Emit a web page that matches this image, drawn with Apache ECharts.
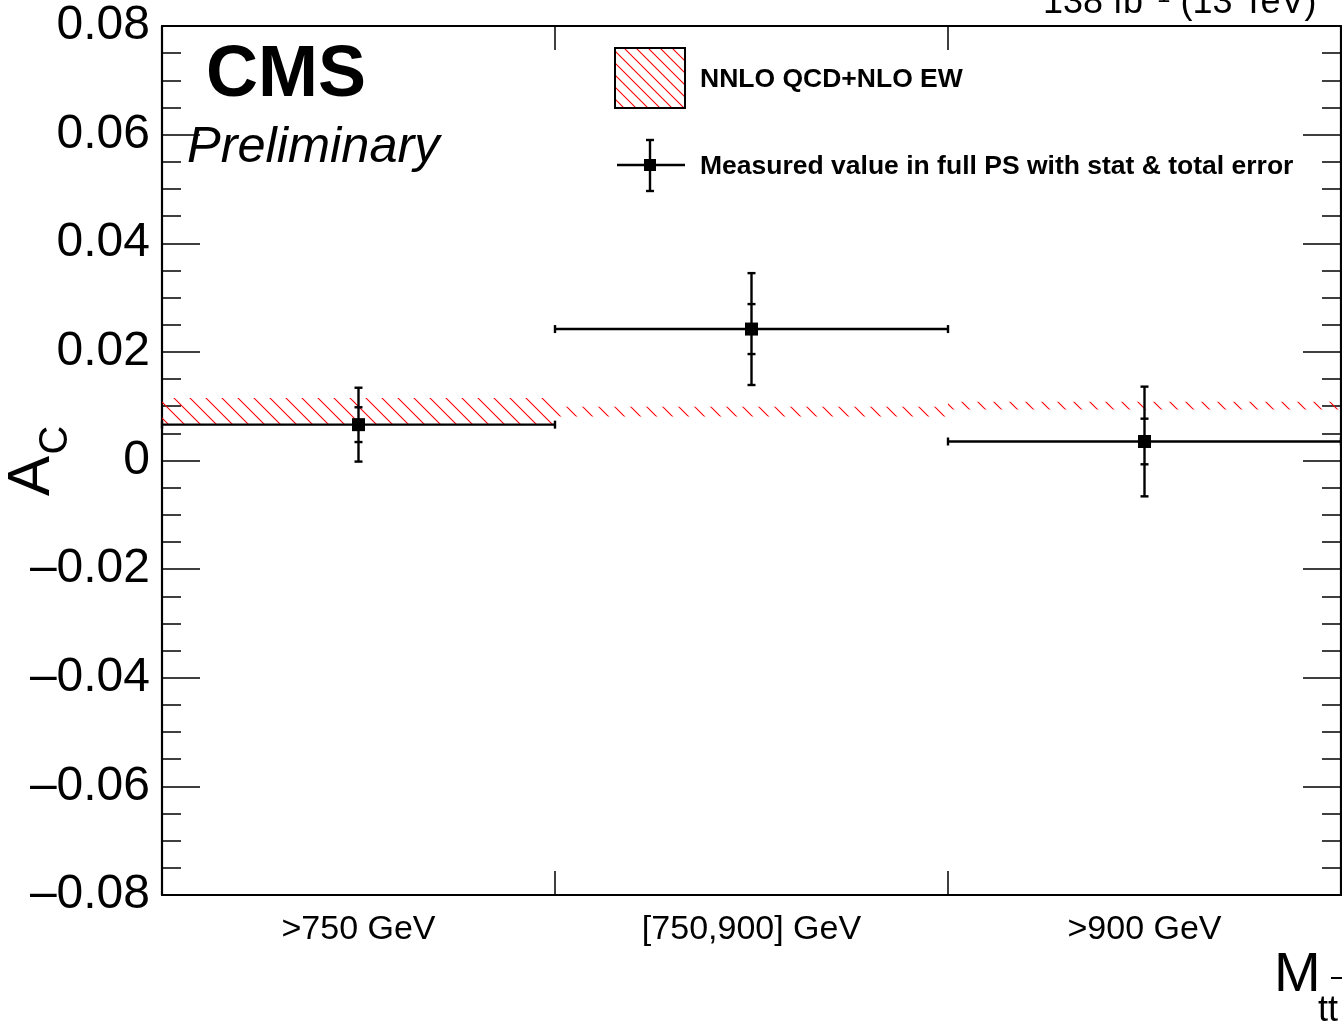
<!DOCTYPE html>
<html>
<head>
<meta charset="utf-8">
<script src="https://cdn.jsdelivr.net/npm/echarts@6/dist/echarts.min.js"></script>
<style>
html,body{margin:0;padding:0;background:#fff;}
#c{width:1342px;height:1027px;}
</style>
</head>
<body>
<div id="c"></div>
<script>
// ---- data ----
const categories = ['>750 GeV', '[750,900] GeV', '>900 GeV'];
const measured = [0.0066, 0.0242, 0.0035];
const statErr = [0.0032, 0.0046, 0.0042];
const totalErr = [0.0068, 0.0103, 0.0101];
const theoryLow = [0.0065, 0.0081, 0.0094];
const theoryHigh = [0.0115, 0.0099, 0.0108];
const yMin = -0.08, yMax = 0.08, yStep = 0.02;

const FONT = '"Liberation Sans", Arial, Helvetica, sans-serif';

// hatch pattern
function makeHatch(size) {
  const cv = document.createElement('canvas');
  cv.width = size; cv.height = size;
  const g = cv.getContext('2d');
  g.strokeStyle = '#ff0000';
  g.lineWidth = 1.1;
  g.beginPath();
  g.moveTo(-2, -2); g.lineTo(size + 2, size + 2);
  g.moveTo(-2, size - 2); g.lineTo(2, size + 2);
  g.moveTo(size - 2, -2); g.lineTo(size + 2, 2);
  g.stroke();
  return cv;
}
const hatchBand = makeHatch(16);
const hatchLegend = makeHatch(12);

const bandData = categories.map((c, i) => [i, theoryLow[i], theoryHigh[i]]);
const measData = categories.map((c, i) => [i, measured[i], statErr[i], totalErr[i]]);

function fmtY(v) {
  if (Math.abs(v) < 1e-9) return '0';
  const s = Math.abs(v).toFixed(2);
  return (v < 0 ? '\u2013' : '') + s;
}

const chart = echarts.init(document.getElementById('c'));
const axisLine = {show: true, onZero: false, lineStyle: {color: '#000', width: 2.2}};

const option = {
  animation: false,
  backgroundColor: '#fff',
  grid: {left: 162, top: 26, right: 1, bottom: 132, containLabel: false},
  xAxis: [{
    type: 'category', data: categories, position: 'bottom', boundaryGap: true,
    axisLine: axisLine,
    axisTick: {show: true, inside: true, length: 24, interval: 0, lineStyle: {color: '#000', width: 1.5}},
    axisLabel: {show: true, interval: 0, margin: 18, fontSize: 34, color: '#000', fontFamily: FONT},
    splitLine: {show: false}
  }, {
    type: 'category', data: categories, position: 'top', boundaryGap: true,
    axisLine: axisLine,
    axisTick: {show: true, inside: true, length: 24, interval: 0, lineStyle: {color: '#000', width: 1.5}},
    axisLabel: {show: false}, splitLine: {show: false}
  }],
  yAxis: [{
    type: 'value', min: yMin, max: yMax, interval: yStep, position: 'left',
    axisLine: axisLine,
    axisTick: {show: true, inside: true, length: 38, lineStyle: {color: '#000', width: 1.5}},
    minorTick: {show: true, splitNumber: 4, length: 19, lineStyle: {color: '#000', width: 1.5}},
    axisLabel: {show: true, margin: 12, fontSize: 48, color: '#000', fontFamily: FONT,
      formatter: fmtY, showMinLabel: true, showMaxLabel: true},
    splitLine: {show: false}
  }, {
    type: 'value', min: yMin, max: yMax, interval: yStep, position: 'right',
    axisLine: axisLine,
    axisTick: {show: true, inside: true, length: 38, lineStyle: {color: '#000', width: 1.5}},
    minorTick: {show: true, splitNumber: 4, length: 19, lineStyle: {color: '#000', width: 1.5}},
    axisLabel: {show: false}, splitLine: {show: false}
  }],
  series: [{
    type: 'custom', name: 'NNLO QCD+NLO EW', xAxisIndex: 0, yAxisIndex: 0,
    data: bandData, z: 2,
    renderItem: function (params, api) {
      const i = api.value(0);
      const bw = api.size([1, 0])[0];
      const pLo = api.coord([i, api.value(1)]);
      const pHi = api.coord([i, api.value(2)]);
      return {
        type: 'rect',
        shape: {x: pLo[0] - bw / 2, y: pHi[1], width: bw, height: pLo[1] - pHi[1]},
        style: {fill: {image: hatchBand, repeat: 'repeat'}, stroke: null}
      };
    }
  }, {
    type: 'custom', name: 'Measured', xAxisIndex: 0, yAxisIndex: 0,
    data: measData, z: 5,
    renderItem: function (params, api) {
      const i = api.value(0), v = api.value(1), st = api.value(2), tot = api.value(3);
      const bw = api.size([1, 0])[0];
      const c = api.coord([i, v]);
      const yT = api.coord([i, v + tot])[1], yB = api.coord([i, v - tot])[1];
      const sT = api.coord([i, v + st])[1], sB = api.coord([i, v - st])[1];
      const xl = c[0] - bw / 2, xr = c[0] + bw / 2;
      const ls = {stroke: '#000', lineWidth: 2.4};
      const cap = 4, m = 6.5;
      const L = (x1, y1, x2, y2) => ({type: 'line', shape: {x1, y1, x2, y2}, style: ls});
      return {
        type: 'group',
        children: [
          L(xl, c[1], xr, c[1]),
          L(xl, c[1] - cap, xl, c[1] + cap),
          L(xr, c[1] - cap, xr, c[1] + cap),
          L(c[0], yT, c[0], yB),
          L(c[0] - cap, yT, c[0] + cap, yT),
          L(c[0] - cap, yB, c[0] + cap, yB),
          L(c[0] - cap, sT, c[0] + cap, sT),
          L(c[0] - cap, sB, c[0] + cap, sB),
          {type: 'rect', shape: {x: c[0] - m, y: c[1] - m, width: 2 * m, height: 2 * m}, style: {fill: '#000'}}
        ]
      };
    }
  }],
  graphic: [
    // CMS / Preliminary
    {type: 'text', x: 206, y: 76, style: {text: 'CMS', fontSize: 72, fontWeight: 'bold', fontFamily: FONT, fill: '#000', verticalAlign: 'middle', align: 'left'}},
    {type: 'text', x: 187, y: 148, style: {text: 'Preliminary', fontSize: 50.5, fontStyle: 'italic', fontFamily: FONT, fill: '#000', verticalAlign: 'middle', align: 'left'}},
    // lumi
    {type: 'text', x: 1043, y: 3, style: {text: '{n|138 fb}{s|\u22121}{n| (13 TeV)}', fontFamily: FONT, fill: '#000', verticalAlign: 'middle', align: 'left',
      rich: {n: {fontSize: 36, fontFamily: FONT, lineHeight: 40}, s: {fontSize: 24, fontFamily: FONT, verticalAlign: 'top', lineHeight: 40}}}},
    // y title
    {type: 'text', x: 32, y: 476, rotation: Math.PI / 2, style: {text: 'A', fontSize: 60, fontFamily: FONT, fill: '#000', align: 'center', verticalAlign: 'middle'}},
    {type: 'text', x: 56, y: 440, rotation: Math.PI / 2, style: {text: 'C', fontSize: 40, fontFamily: FONT, fill: '#000', align: 'center', verticalAlign: 'middle'}},
    // x title
    {type: 'text', x: 1274, y: 976, style: {text: 'M', fontSize: 56, fontFamily: FONT, fill: '#000', align: 'left', verticalAlign: 'middle'}},
    {type: 'text', x: 1318, y: 1011, style: {text: 'tt', fontSize: 36, fontFamily: FONT, fill: '#000', align: 'left', verticalAlign: 'middle'}},
    {type: 'line', shape: {x1: 1331, y1: 978, x2: 1343, y2: 978}, style: {stroke: '#000', lineWidth: 2}},
    // legend
    {type: 'rect', shape: {x: 615, y: 48, width: 70, height: 60}, style: {fill: {image: hatchLegend, repeat: 'repeat'}, stroke: '#000', lineWidth: 2}},
    {type: 'text', x: 700, y: 80, style: {text: 'NNLO QCD+NLO EW', fontSize: 26.5, fontWeight: 'bold', fontFamily: FONT, fill: '#000', align: 'left', verticalAlign: 'middle'}},
    {type: 'line', shape: {x1: 617, y1: 165, x2: 685, y2: 165}, style: {stroke: '#000', lineWidth: 2.4}},
    {type: 'line', shape: {x1: 650, y1: 140, x2: 650, y2: 191}, style: {stroke: '#000', lineWidth: 2.4}},
    {type: 'line', shape: {x1: 646, y1: 140, x2: 654, y2: 140}, style: {stroke: '#000', lineWidth: 2.4}},
    {type: 'line', shape: {x1: 646, y1: 191, x2: 654, y2: 191}, style: {stroke: '#000', lineWidth: 2.4}},
    {type: 'rect', shape: {x: 644, y: 159, width: 12, height: 12}, style: {fill: '#000'}},
    {type: 'text', x: 700, y: 167, style: {text: 'Measured value in full PS with stat & total error', fontSize: 26.5, fontWeight: 'bold', fontFamily: FONT, fill: '#000', align: 'left', verticalAlign: 'middle'}}
  ]
};
chart.setOption(option);
</script>
</body>
</html>
